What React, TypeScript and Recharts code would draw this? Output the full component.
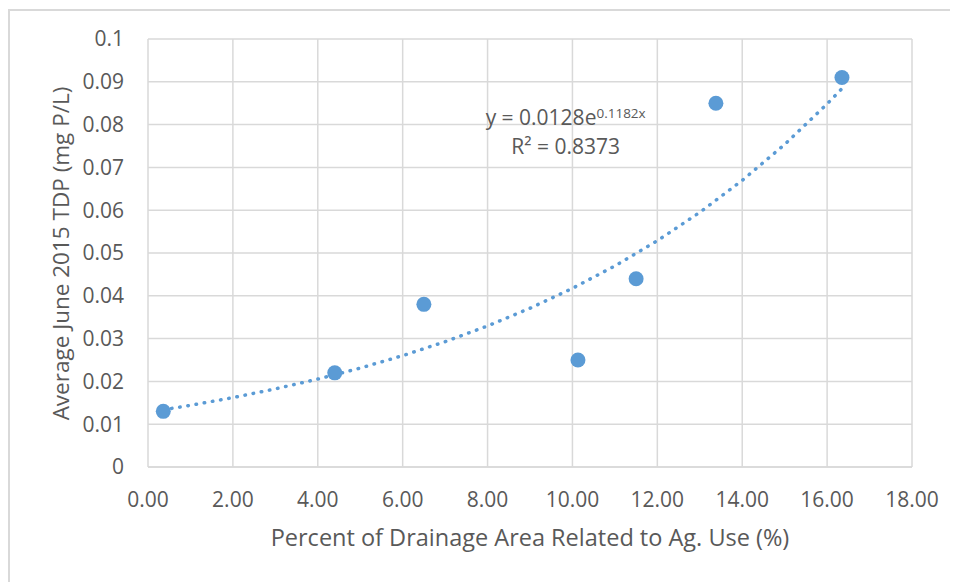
import React from "react";
import {
  ScatterChart,
  Scatter,
  XAxis,
  YAxis,
  CartesianGrid,
  ReferenceDot,
} from "recharts";

const agPercent = [0.36, 4.4, 6.5, 10.13, 11.5, 13.38, 16.35];
const tdpValues = [0.013, 0.022, 0.038, 0.025, 0.044, 0.085, 0.091];

const trendX = [0.36, 1, 2, 3, 4, 5, 6, 7, 8, 9, 10, 11, 12, 13, 14, 15, 16, 16.35];
const trendY = [
  0.01336, 0.01441, 0.01621, 0.01825, 0.02054, 0.02311, 0.02602, 0.02928,
  0.03295, 0.03709, 0.04174, 0.04698, 0.05287, 0.0595, 0.06697, 0.07537,
  0.08483, 0.08841,
];

const xTicks = [0, 2, 4, 6, 8, 10, 12, 14, 16, 18];
const xTickLabels = ["0.00", "2.00", "4.00", "6.00", "8.00", "10.00", "12.00", "14.00", "16.00", "18.00"];
const yTicks = [0, 0.01, 0.02, 0.03, 0.04, 0.05, 0.06, 0.07, 0.08, 0.09, 0.1];
const yTickLabels = ["0", "0.01", "0.02", "0.03", "0.04", "0.05", "0.06", "0.07", "0.08", "0.09", "0.1"];

const xTitle = "Percent of Drainage Area Related to Ag. Use (%)";
const yTitle = "Average June 2015 TDP (mg P/L)";
const eqMain = "y = 0.0128e";
const eqExp = "0.1182x";
const rSquared = "R² = 0.8373";
const eqAnchor = { x: 9.84, y: 0.08 };

const points = agPercent.map((x, i) => ({ x, y: tdpValues[i] }));
const trend = trendX.map((x, i) => ({ x, y: trendY[i] }));

const FONT = "'Open Sans', sans-serif";
const TEXT = "#595959";
const GRID = "#d9d9d9";
const BLUE = "#5B9BD5";

const W = 950;
const H = 574;

export default function App() {
  return (
    <div style={{ position: "relative", width: W, height: H }}>
      <div
        style={{
          position: "absolute",
          left: 0,
          top: 1,
          width: W,
          height: H - 1,
          borderTop: `2px solid ${GRID}`,
          borderLeft: `2px solid ${GRID}`,
          boxSizing: "border-box",
          pointerEvents: "none",
        }}
      />
      <ScatterChart
        width={W}
        height={H}
        margin={{ top: 31, right: 46, left: 0, bottom: 0 }}
        style={{ fontFamily: FONT }}
      >
        <CartesianGrid stroke={GRID} strokeWidth={1.5} />
        <XAxis
          type="number"
          dataKey="x"
          domain={[0, 18]}
          ticks={xTicks}
          tickFormatter={(v: number) => xTickLabels[xTicks.indexOf(v)] ?? String(v)}
          height={115}
          axisLine={{ stroke: GRID, strokeWidth: 1.5 }}
          tickLine={false}
          tickSize={0}
          tickMargin={25}
          tick={{ fill: TEXT, fontSize: 21, fontFamily: FONT }}
          interval={0}
          label={{
            content: (props: any) => {
              const vb = props.viewBox;
              return (
                <text
                  x={vb.x + vb.width / 2}
                  y={537.5}
                  textAnchor="middle"
                  fill={TEXT}
                  fontSize={23.5}
                  fontFamily={FONT}
                >
                  {xTitle}
                </text>
              );
            },
          }}
        />
        <YAxis
          type="number"
          dataKey="y"
          domain={[0, 0.1]}
          ticks={yTicks}
          tickFormatter={(v: number) => {
            const i = yTicks.findIndex((t) => Math.abs(t - v) < 1e-9);
            return i >= 0 ? yTickLabels[i] : String(v);
          }}
          width={140}
          axisLine={false}
          tickLine={false}
          tickSize={0}
          tickMargin={24}
          tick={{ fill: TEXT, fontSize: 21, fontFamily: FONT }}
          interval={0}
          label={{
            content: () => (
              <text
                transform="translate(61, 245.5) rotate(-90)"
                textAnchor="middle"
                fill={TEXT}
                fontSize={22.5}
                fontFamily={FONT}
              >
                {yTitle}
              </text>
            ),
          }}
        />
        <Scatter
          data={trend}
          isAnimationActive={false}
          line={{
            stroke: BLUE,
            strokeWidth: 3.5,
            strokeDasharray: "0.5 7.8",
            strokeLinecap: "round",
          }}
          lineType="joint"
          shape={() => <g />}
        />
        <Scatter
          data={points}
          fill={BLUE}
          isAnimationActive={false}
          shape={(p: any) => <circle cx={p.cx} cy={p.cy} r={7.5} fill={BLUE} />}
        />
        <ReferenceDot
          x={eqAnchor.x}
          y={eqAnchor.y}
          r={1}
          fill="none"
          stroke="none"
          label={{
            content: (props: any) => {
              const vb = props.viewBox;
              const cx = vb.x + vb.width / 2;
              const cy = vb.y + vb.height / 2;
              return (
                <g fill={TEXT} fontFamily={FONT}>
                  <text x={cx} y={cy + 0.5} textAnchor="middle" fontSize={21}>
                    {eqMain}
                    <tspan fontSize={13.5} dy={-7}>
                      {eqExp}
                    </tspan>
                  </text>
                  <text x={cx} y={cy + 29.5} textAnchor="middle" fontSize={21}>
                    {rSquared}
                  </text>
                </g>
              );
            },
          }}
        />
      </ScatterChart>
    </div>
  );
}
